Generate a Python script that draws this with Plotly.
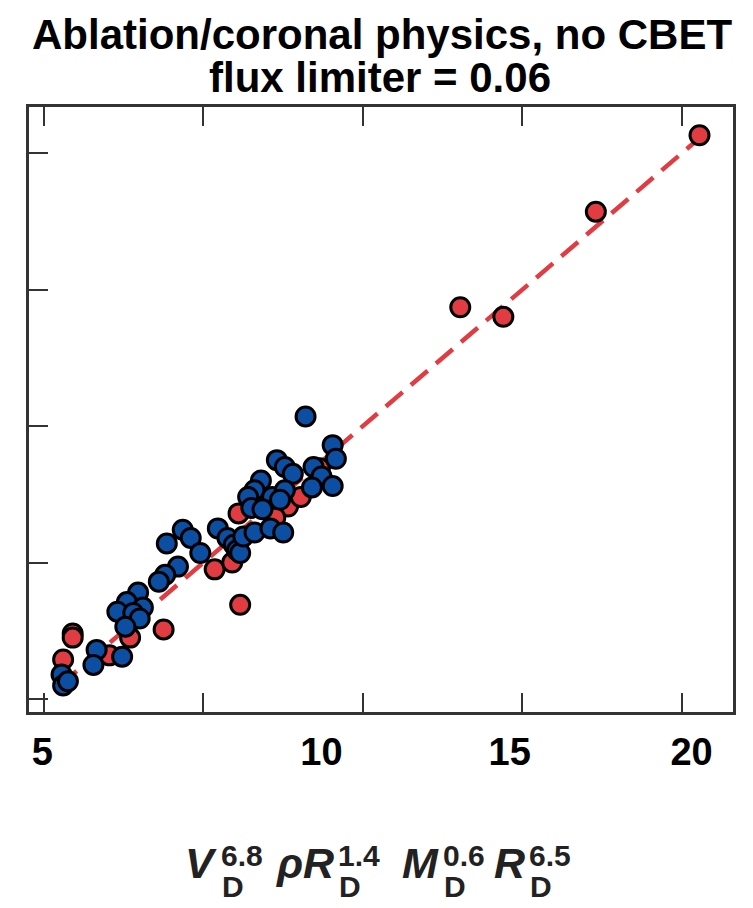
import plotly.graph_objects as go

# ---------------- data (axis units: one unit = one tick interval) ----------------
red_x = [4.11, 3.46, 2.61, 2.88, 0.18, 0.18, 0.12, 0.41, 0.54, 0.75, 1.07, 1.18, 1.23, 1.22, 1.53, 1.61, 1.45, 1.73]
red_y = [4.13, 3.57, 2.87, 2.80, 0.48, 0.45, 0.29, 0.32, 0.45, 0.51, 0.95, 1.00, 0.69, 1.36, 1.41, 1.48, 1.33, 1.69]

blue_x = [1.64, 1.81, 1.83, 1.69, 1.74, 1.81, 1.68, 1.46, 1.51, 1.56, 1.36, 1.32, 1.43, 1.51, 1.48,
          1.28, 1.30, 1.37, 1.09, 1.15, 1.19, 1.21, 1.23, 1.25, 1.32, 1.42, 1.50, 0.87, 0.92, 0.77,
          0.98, 0.84, 0.76, 0.72, 0.59, 0.52, 0.62, 0.46, 0.56, 0.60, 0.51, 0.33, 0.31, 0.49, 0.11,
          0.12, 0.15]
blue_y = [2.07, 1.86, 1.76, 1.70, 1.63, 1.56, 1.55, 1.75, 1.70, 1.65, 1.60, 1.53, 1.48, 1.53, 1.46,
          1.48, 1.40, 1.39, 1.25, 1.18, 1.13, 1.09, 1.07, 1.19, 1.22, 1.25, 1.22, 1.24, 1.18, 1.14,
          1.07, 0.97, 0.91, 0.86, 0.78, 0.71, 0.67, 0.64, 0.63, 0.59, 0.53, 0.36, 0.25, 0.31, 0.18,
          0.10, 0.13]

fit_x = [0.10, 4.11]
fit_y = [0.10, 4.11]

tick_vals = [0, 1, 2, 3, 4]
label_text = ["5", "10", "15", "20"]
label_pos = [-0.01, 1.74, 2.92, 4.06]

# ---------------- styles ----------------
RED = "#E03C42"
BLUE = "#0B4EA2"
AXC = "#333333"
SANS = "Liberation Sans, Arial, Helvetica, sans-serif"
XR = [-0.094, 4.32]
YR = [-0.095, 4.337]

fig = go.Figure()
fig.add_trace(go.Scatter(x=fit_x, y=fit_y, mode="lines",
                         line=dict(color=RED, width=4.5, dash="22px,11px"),
                         hoverinfo="skip", showlegend=False))
fig.add_trace(go.Scatter(x=red_x, y=red_y, mode="markers",
                         marker=dict(size=19, color=RED, line=dict(color="black", width=3)),
                         showlegend=False))
fig.add_trace(go.Scatter(x=blue_x, y=blue_y, mode="markers",
                         marker=dict(size=19, color=BLUE, line=dict(color="black", width=3)),
                         showlegend=False))
# empty carrier trace so the label axis (x2) is drawn
fig.add_trace(go.Scatter(x=label_pos, y=[None] * len(label_pos), xaxis="x2", yaxis="y",
                         mode="markers", hoverinfo="skip", showlegend=False))

fig.update_layout(
    width=753, height=908, autosize=False,
    margin=dict(l=29, r=20, t=107, b=196, pad=0),
    paper_bgcolor="white", plot_bgcolor="white",
    xaxis=dict(range=XR, tickmode="array", tickvals=tick_vals, showticklabels=False,
               ticks="inside", ticklen=19, tickwidth=2, tickcolor=AXC,
               showline=True, linecolor=AXC, linewidth=3, mirror="ticks",
               showgrid=False, zeroline=False),
    xaxis2=dict(range=XR, overlaying="x", anchor="y", side="bottom",
                tickmode="array", tickvals=label_pos, ticktext=label_text,
                ticks="", showline=False, showgrid=False, zeroline=False,
                ticklabelstandoff=14,
                tickfont=dict(family=SANS, size=38, color="black", weight="bold")),
    yaxis=dict(range=YR, tickmode="array", tickvals=tick_vals, showticklabels=False,
               ticks="inside", ticklen=19, tickwidth=2, tickcolor=AXC,
               showline=True, linecolor=AXC, linewidth=3, mirror=True,
               showgrid=False, zeroline=False),
)


def px2paper(px, py):
    return (px - 29) / 704.0, (712 - py) / 605.0


for txt, cx, py in [("Ablation/coronal physics, no CBET", 382, 34), ("flux limiter = 0.06", 380, 78)]:
    xx, yy = px2paper(cx, py)
    fig.add_annotation(text=txt, xref="paper", yref="paper", x=xx, y=yy,
                       xanchor="center", yanchor="middle", showarrow=False,
                       font=dict(family=SANS, size=42, color="black", weight="bold"))

# x-axis title: V_D^6.8 rhoR_D^1.4 M_D^0.6 R_D^6.5 with stacked scripts
groups = [("V", "6.8", 219), ("ρR", "1.4", 336), ("M", "0.6", 441), ("R", "6.5", 527)]
for base, sup, split in groups:
    bx, by = px2paper(split, 863)
    fig.add_annotation(text="<i>" + base + "</i>", xref="paper", yref="paper", x=bx, y=by,
                       xanchor="right", yanchor="middle", showarrow=False,
                       font=dict(family=SANS, size=43, color="#222", weight="bold"))
    sx, sy = px2paper(split, 855)
    fig.add_annotation(text=sup, xref="paper", yref="paper", x=sx, y=sy,
                       xanchor="left", yanchor="middle", showarrow=False,
                       font=dict(family=SANS, size=30, color="#222", weight="bold"))
    dx, dy = px2paper(split + 1, 886)
    fig.add_annotation(text="D", xref="paper", yref="paper", x=dx, y=dy,
                       xanchor="left", yanchor="middle", showarrow=False,
                       font=dict(family=SANS, size=30, color="#222", weight="bold"))

fig.write_html("out.html")
